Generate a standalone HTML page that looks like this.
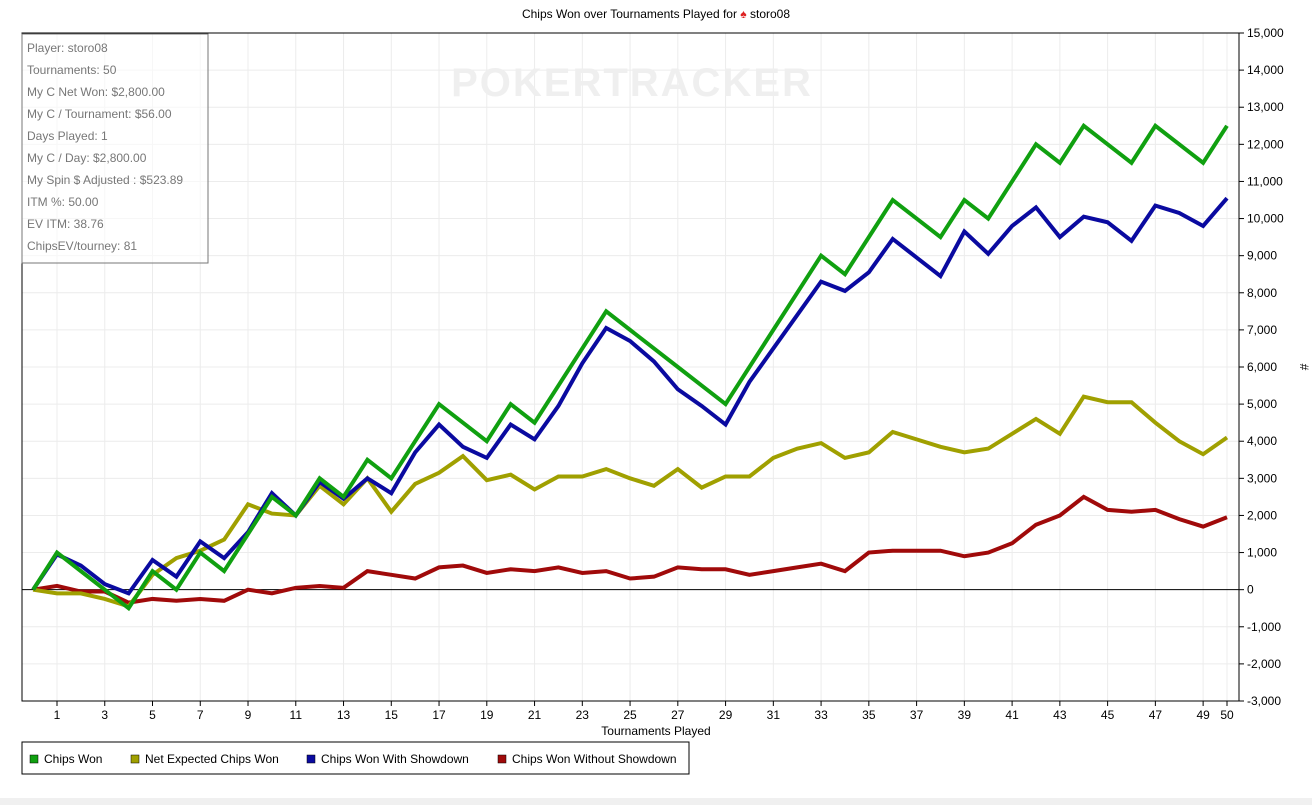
<!DOCTYPE html>
<html><head><meta charset="utf-8"><style>
html,body{margin:0;padding:0;background:#fff;width:1312px;height:805px;overflow:hidden;font-family:"Liberation Sans",sans-serif}
</style></head><body>
<svg id="chart" width="1312" height="805" xmlns="http://www.w3.org/2000/svg" font-family="Liberation Sans, sans-serif">
<rect x="0" y="798" width="1312" height="7" fill="#f0f0f0"/>
<text x="656" y="18" font-size="12" text-anchor="middle" fill="#000">Chips Won over Tournaments Played for <tspan fill="#d22">♠</tspan> storo08</text>
<g id="grid"></g>
<text x="632" y="96" font-size="40" font-weight="bold" text-anchor="middle" fill="#efefef" letter-spacing="2">POKERTRACKER</text>
<rect x="22" y="33" width="1217" height="668" fill="none" stroke="#000"/>
<g id="axes"></g>
<g id="series"></g>
<text x="656" y="735" font-size="12" text-anchor="middle">Tournaments Played</text>
<text x="1300" y="367" font-size="12" text-anchor="middle" transform="rotate(90 1300 367)">#</text>
<g>
<rect x="22" y="34" width="186" height="229" fill="rgba(255,255,255,0.6)" stroke="#777"/>
<g font-size="12" fill="#777">
<text x="27" y="52">Player: storo08</text>
<text x="27" y="74">Tournaments: 50</text>
<text x="27" y="96">My C Net Won: $2,800.00</text>
<text x="27" y="118">My C / Tournament: $56.00</text>
<text x="27" y="140">Days Played: 1</text>
<text x="27" y="162">My C / Day: $2,800.00</text>
<text x="27" y="184">My Spin $ Adjusted : $523.89</text>
<text x="27" y="206">ITM %: 50.00</text>
<text x="27" y="228">EV ITM: 38.76</text>
<text x="27" y="250">ChipsEV/tourney: 81</text>
</g></g>
<g>
<rect x="22" y="742" width="667" height="32" fill="#fff" stroke="#000"/>
<g><rect x="30" y="755" width="8" height="8" fill="#10a010" stroke="#000" stroke-width="0.5"/><text x="44" y="763" font-size="12">Chips Won</text></g>
<g><rect x="131" y="755" width="8" height="8" fill="#a0a000" stroke="#000" stroke-width="0.5"/><text x="145" y="763" font-size="12">Net Expected Chips Won</text></g>
<g><rect x="307" y="755" width="8" height="8" fill="#0a0aa0" stroke="#000" stroke-width="0.5"/><text x="321" y="763" font-size="12">Chips Won With Showdown</text></g>
<g><rect x="498" y="755" width="8" height="8" fill="#a00a0a" stroke="#000" stroke-width="0.5"/><text x="512" y="763" font-size="12">Chips Won Without Showdown</text></g>
</g>
</svg>
<script>
const chipsWon=[0,1000,500,0,-500,500,0,1000,500,1500,2500,2000,3000,2500,3500,3000,4000,5000,4500,4000,5000,4500,5500,6500,7500,7000,6500,6000,5500,5000,6000,7000,8000,9000,8500,9500,10500,10000,9500,10500,10000,11000,12000,11500,12500,12000,11500,12500,12000,11500,12500];
const withShowdown=[0,950,650,150,-100,800,350,1300,850,1550,2600,2000,2900,2450,3000,2600,3700,4450,3850,3550,4450,4050,4950,6100,7050,6700,6150,5400,4950,4450,5600,6500,7400,8300,8050,8550,9450,8950,8450,9650,9050,9800,10300,9500,10050,9900,9400,10350,10150,9800,10550];
const netExpected=[0,-100,-100,-250,-450,400,850,1050,1350,2300,2050,2000,2800,2300,3000,2100,2850,3150,3600,2950,3100,2700,3050,3050,3250,3000,2800,3250,2750,3050,3050,3550,3800,3950,3550,3700,4250,4050,3850,3700,3800,4200,4600,4200,5200,5050,5050,4500,4000,3650,4100];
const withoutShowdown=[0,100,-50,-50,-350,-250,-300,-250,-300,0,-100,50,100,50,500,400,300,600,650,450,550,500,600,450,500,300,350,600,550,550,400,500,600,700,500,1000,1050,1050,1050,900,1000,1250,1750,2000,2500,2150,2100,2150,1900,1700,1950];
const yTicks=[-3000,-2000,-1000,0,1000,2000,3000,4000,5000,6000,7000,8000,9000,10000,11000,12000,13000,14000,15000];
const xTicks=[1,3,5,7,9,11,13,15,17,19,21,23,25,27,29,31,33,35,37,39,41,43,45,47,49,50];
const NS="http://www.w3.org/2000/svg";
const x=i=>57+(i-1)*(1227-57)/49;
const y=v=>701-(v+3000)*(668/18000);
const grid=document.getElementById('grid'),axes=document.getElementById('axes'),ser=document.getElementById('series');
function mk(tag,attrs,parent){const e=document.createElementNS(NS,tag);for(const k in attrs)e.setAttribute(k,attrs[k]);parent.appendChild(e);return e;}
yTicks.forEach(v=>{
 const g=mk('line',{x1:22,x2:1239,y1:y(v),y2:y(v),stroke:v===0?'#000':'#ececec','stroke-width':1},v===0?axes:grid);
 
 
 const t=mk('line',{x1:1239,x2:1244,y1:y(v),y2:y(v),stroke:'#000'},axes);
 
 
 const l=mk('text',{x:1247,y:y(v)+4,'font-size':12},axes);
 l.textContent=v.toLocaleString('en-US');
 
 
});
xTicks.forEach(i=>{
 const g=mk('line',{x1:x(i),x2:x(i),y1:33,y2:701,stroke:'#ececec'},grid);
 
 
 const t=mk('line',{x1:x(i),x2:x(i),y1:701,y2:706,stroke:'#000'},axes);
 
 
 const l=mk('text',{x:x(i),y:719,'font-size':12,'text-anchor':'middle'},axes);
 l.textContent=i;
 
 
});
[[withoutShowdown,'#a00a0a','line-without-showdown'],[netExpected,'#a0a000','line-net-expected'],[withShowdown,'#0a0aa0','line-with-showdown'],[chipsWon,'#10a010','line-chips-won']].forEach(([d,c,n])=>{
 const p=mk('polyline',{points:d.map((v,i)=>x(i)+','+y(v)).join(' '),fill:'none',stroke:c,'stroke-width':4,'stroke-linejoin':'miter'},ser);
 
 
});
</script>
</body></html>
